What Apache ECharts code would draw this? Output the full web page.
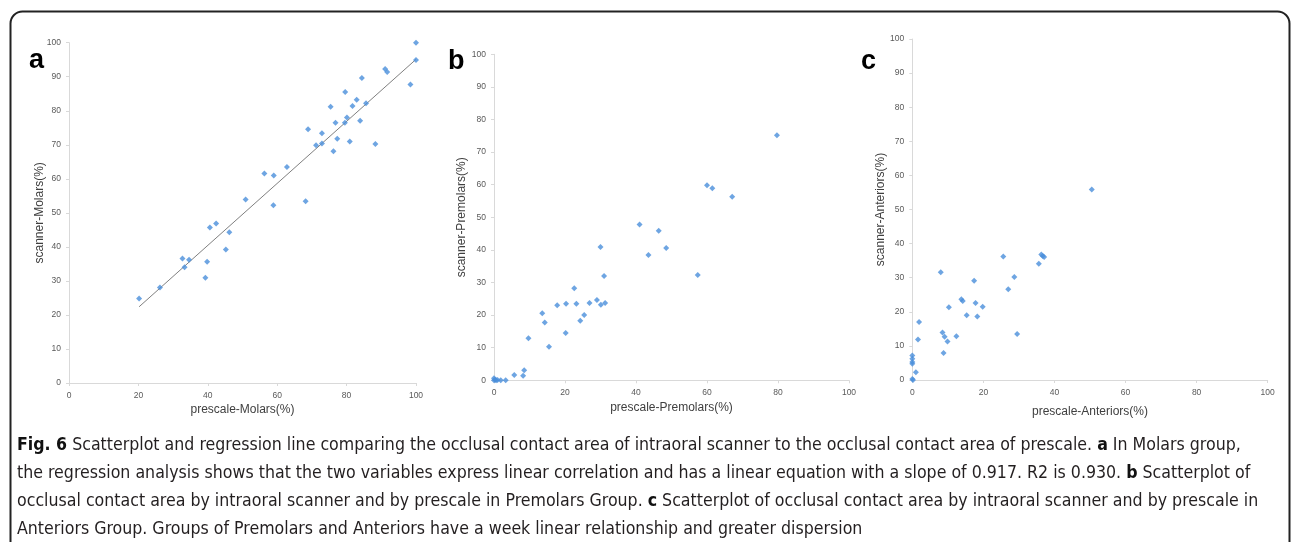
<!DOCTYPE html>
<html>
<head>
<meta charset="utf-8">
<script src="https://cdn.jsdelivr.net/npm/echarts@6/dist/echarts.min.js"></script>
<style>
html,body{margin:0;padding:0;background:#fff;}
#main{width:1292px;height:542px;}
</style>
</head>
<body>
<div id="main"></div>
<script>
// ---- Data ----
const molarsX = [100, 100, 91.1, 91.7, 98.4, 84.4, 79.6, 82.9, 81.7, 75.4, 85.6, 80.1, 76.8, 79.5, 83.9, 68.9, 72.9, 77.3, 71.2, 72.9, 80.9, 88.3, 76.2, 62.8, 56.3, 59.0, 50.9, 68.2, 58.9, 40.6, 42.4, 46.2, 45.2, 32.7, 34.6, 33.3, 39.8, 39.3, 26.2, 20.2];
const molarsY = [100, 94.9, 92.3, 91.4, 87.7, 89.6, 85.5, 83.2, 81.4, 81.2, 82.2, 78.0, 76.5, 76.5, 77.1, 74.6, 73.4, 71.8, 69.9, 70.4, 71.0, 70.2, 68.1, 63.5, 61.6, 61.0, 53.9, 53.4, 52.2, 45.7, 46.9, 44.3, 39.2, 36.6, 36.2, 34.0, 35.6, 30.9, 28.1, 24.8];
const molarsFitX = [20.2, 100];
const molarsFitY = [22.4, 95.1];

const premolarsX = [79.7, 60.0, 61.5, 67.1, 41.0, 46.4, 43.5, 48.5, 30.0, 31.0, 57.4, 22.6, 29.0, 26.9, 31.3, 30.1, 20.3, 23.2, 17.8, 13.6, 25.4, 14.3, 24.3, 20.2, 9.7, 15.5, 8.5, 5.7, 8.2, 3.3, 1.9, 0, 0.3, 0.6, 0, 1.0];
const premolarsY = [75.2, 59.8, 58.9, 56.3, 47.8, 45.9, 38.4, 40.6, 40.9, 32.0, 32.3, 28.2, 24.6, 23.7, 23.7, 23.2, 23.5, 23.5, 23.0, 20.6, 20.0, 17.7, 18.3, 14.5, 12.9, 10.3, 3.1, 1.6, 1.4, 0, 0, 0.6, 0.2, 0, 0, 0.1];

const anteriorsX = [50.5, 25.6, 36.3, 36.7, 37.1, 35.6, 8.0, 28.7, 17.4, 27.0, 13.8, 14.2, 17.8, 10.3, 19.8, 15.3, 18.3, 1.9, 1.6, 8.5, 9.1, 9.9, 12.4, 29.5, 8.8, 0, 0, 0, 0, 1.0, 0, 0.2];
const anteriorsY = [55.9, 36.2, 36.8, 36.4, 36.1, 34.1, 31.6, 30.2, 29.1, 26.6, 23.7, 23.2, 22.6, 21.3, 21.5, 19.0, 18.6, 17.0, 11.9, 13.9, 12.7, 11.3, 12.8, 13.5, 7.9, 7.2, 6.2, 5.3, 4.8, 2.3, 0.3, 0];

const axisTicks = { min: 0, max: 100, interval: 20 };
const yTicks = { min: 0, max: 100, interval: 10 };
const xNames = ['prescale-Molars(%)', 'prescale-Premolars(%)', 'prescale-Anteriors(%)'];
const yNames = ['scanner-Molars(%)', 'scanner-Premolars(%)', 'scanner-Anteriors(%)'];
const panelLetters = ['a', 'b', 'c'];

const captionLines = [
  '{b|Fig. 6} Scatterplot and regression line comparing the occlusal contact area of intraoral scanner to the occlusal contact area of prescale. {b|a} In Molars group,',
  'the regression analysis shows that the two variables express linear correlation and has a linear equation with a slope of 0.917. R2 is 0.930. {b|b} Scatterplot of',
  'occlusal contact area by intraoral scanner and by prescale in Premolars Group. {b|c} Scatterplot of occlusal contact area by intraoral scanner and by prescale in',
  'Anteriors Group. Groups of Premolars and Anteriors have a week linear relationship and greater dispersion'
];

// ---- Layout ----
const zip = (a, b) => a.map((v, i) => [v, b[i]]);
const grids = [
  { left: 69, top: 42.7, width: 347, height: 340.3 },
  { left: 494, top: 54.3, width: 355, height: 326 },
  { left: 912.3, top: 39, width: 355.4, height: 341 }
];
const xNameGap = [21, 21.5, 26];
const yNameGap = [23, 26, 26];
const axisColor = '#d9d9d9';
const labelFont = '"Liberation Sans", Arial, sans-serif';

const xAxes = grids.map((g, i) => ({
  type: 'value', gridIndex: i, min: axisTicks.min, max: axisTicks.max, interval: axisTicks.interval,
  axisLine: { show: true, lineStyle: { color: axisColor, width: 1 } },
  axisTick: { show: true, length: 3, lineStyle: { color: axisColor } },
  axisLabel: { color: '#595959', fontSize: 8.5, margin: 8, fontFamily: labelFont },
  splitLine: { show: false },
  name: xNames[i], nameLocation: 'middle', nameGap: xNameGap[i], nameMoveOverlap: false,
  nameTextStyle: { color: '#404040', fontSize: 12, fontFamily: labelFont }
}));
const yAxes = grids.map((g, i) => ({
  type: 'value', gridIndex: i, min: yTicks.min, max: yTicks.max, interval: yTicks.interval,
  axisLine: { show: true, lineStyle: { color: axisColor, width: 1 } },
  axisTick: { show: true, length: 3, lineStyle: { color: axisColor } },
  axisLabel: { color: '#595959', fontSize: 8.5, margin: 8, fontFamily: labelFont },
  splitLine: { show: false },
  name: yNames[i], nameLocation: 'middle', nameGap: yNameGap[i], nameRotate: 90, nameMoveOverlap: false,
  nameTextStyle: { color: '#404040', fontSize: 12, fontFamily: labelFont }
}));

const markerStyle = { color: '#4a8fdb' };
const series = [
  { type: 'scatter', xAxisIndex: 0, yAxisIndex: 0, symbol: 'diamond', symbolSize: 6, itemStyle: markerStyle, data: zip(molarsX, molarsY), z: 3 },
  { type: 'line', xAxisIndex: 0, yAxisIndex: 0, symbol: 'none', lineStyle: { color: '#808080', width: 1 }, data: zip(molarsFitX, molarsFitY), z: 2 },
  { type: 'scatter', xAxisIndex: 1, yAxisIndex: 1, symbol: 'diamond', symbolSize: 6, itemStyle: markerStyle, data: zip(premolarsX, premolarsY) },
  { type: 'scatter', xAxisIndex: 2, yAxisIndex: 2, symbol: 'diamond', symbolSize: 6, itemStyle: markerStyle, data: zip(anteriorsX, anteriorsY) }
];

const letterPos = [[29, 47], [448, 48], [861, 48]];
const graphics = [
  { type: 'rect', shape: { x: 10.5, y: 11.5, width: 1279, height: 600, r: 12 }, style: { fill: 'none', stroke: '#222', lineWidth: 2 }, silent: true, z: 0 }
];
panelLetters.forEach((l, i) => graphics.push({
  type: 'text', x: letterPos[i][0], y: letterPos[i][1],
  style: { text: l, font: 'bold 27px "Liberation Sans", Arial, sans-serif', fill: '#000', textVerticalAlign: 'alphabetic' }
}));
const capFont = '"Liberation Sans Narrow", "DejaVu Sans Condensed", "Open Sans", sans-serif';
captionLines.forEach((t, i) => graphics.push({
  type: 'text', x: 17, y: 445 + i * 28,
  style: {
    text: t, fontFamily: capFont, fontSize: 17.6, fill: '#231f20', textVerticalAlign: 'middle',
    rich: { b: { fontFamily: capFont, fontSize: 17.6, fontWeight: 'bold', fill: '#111', color: '#111' } }
  }
}));

const chart = echarts.init(document.getElementById('main'), null, { renderer: 'canvas' });
chart.setOption({
  animation: false,
  backgroundColor: '#fff',
  grid: grids,
  xAxis: xAxes,
  yAxis: yAxes,
  series: series,
  graphic: graphics
});
</script>
</body>
</html>
